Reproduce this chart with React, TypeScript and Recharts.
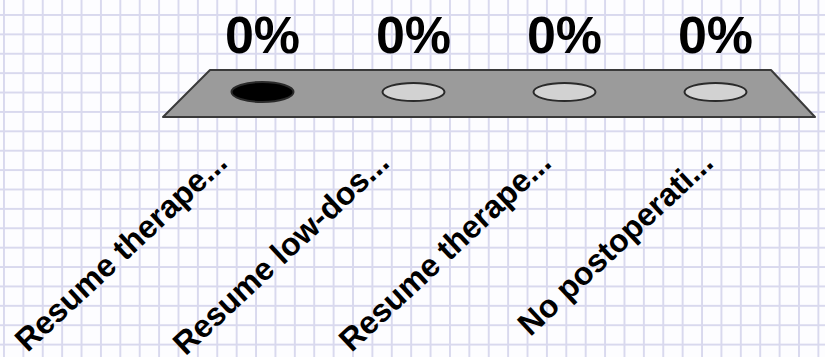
import { ComposedChart, Bar, Line, XAxis, YAxis, Customized } from "recharts";

const categories = ["Resume therape...", "Resume low-dos...", "Resume therape...", "No postoperati..."];
const percents = [0, 0, 0, 0];
const highlighted = [true, false, false, false];

const data = categories.map((name, i) => ({ name, value: percents[i], hi: highlighted[i] }));

const W = 825;
const H = 357;
const FONT = "'Liberation Sans', Arial, sans-serif";

// gray "table" the answer spots sit on
const Platform = () => (
  <polygon
    points="210,70 771,70 815,117 163,117"
    fill="#9b9b9b"
    stroke="#3a3a3a"
    strokeWidth={2}
    strokeLinejoin="round"
  />
);

const Spot = (props: any) => {
  const { cx, cy, payload, index } = props;
  return (
    <g key={index}>
      <ellipse
        cx={cx}
        cy={cy}
        rx={31}
        ry={payload.hi ? 10 : 9}
        fill={payload.hi ? "#000" : "#d2d2d2"}
        stroke="#2a2a2a"
        strokeWidth={2}
      />
      <text x={cx} y={cy - 39} textAnchor="middle" fontFamily={FONT} fontWeight={700} fontSize={52} fill="#000">
        {payload.value}%
      </text>
    </g>
  );
};

const LabelTick = (props: any) => {
  const { x, y, payload } = props;
  const tx = x - 15;
  const ty = y + 43;
  return (
    <text
      x={tx}
      y={ty}
      transform={`rotate(-43 ${tx} ${ty})`}
      textAnchor="end"
      fontFamily={FONT}
      fontWeight={700}
      fontSize={32}
      fill="#000"
    >
      {payload.value}
    </text>
  );
};

export default function App() {
  return (
    <div
      style={{
        position: "absolute",
        left: 0,
        top: 0,
        width: W,
        height: H,
        backgroundColor: "#fdfdff",
        backgroundImage:
          "linear-gradient(to right, #d9d9ee 2px, transparent 2px), linear-gradient(to bottom, #d9d9ee 2px, transparent 2px)",
        backgroundSize: "19.4px 19.4px",
        backgroundPosition: "3px 14px",
      }}
    >
      <ComposedChart width={W} height={H} data={data} margin={{ top: 10, right: 10, bottom: 0, left: 163 }}>
        <Customized component={Platform} />
        <XAxis dataKey="name" hide padding={{ left: 24, right: 24 }} />
        <XAxis
          xAxisId="lab"
          dataKey="name"
          height={265}
          interval={0}
          axisLine={false}
          tickLine={false}
          tickSize={0}
          tickMargin={0}
          padding={{ left: 0, right: 4 }}
          tick={<LabelTick />}
        />
        <YAxis hide domain={[0, 100]} />
        {/* every answer is at 0%, so the bars draw nothing */}
        <Bar dataKey="value" fill="#4f81bd" isAnimationActive={false} />
        <Line dataKey="value" stroke="none" dot={<Spot />} activeDot={false} isAnimationActive={false} />
      </ComposedChart>
    </div>
  );
}
